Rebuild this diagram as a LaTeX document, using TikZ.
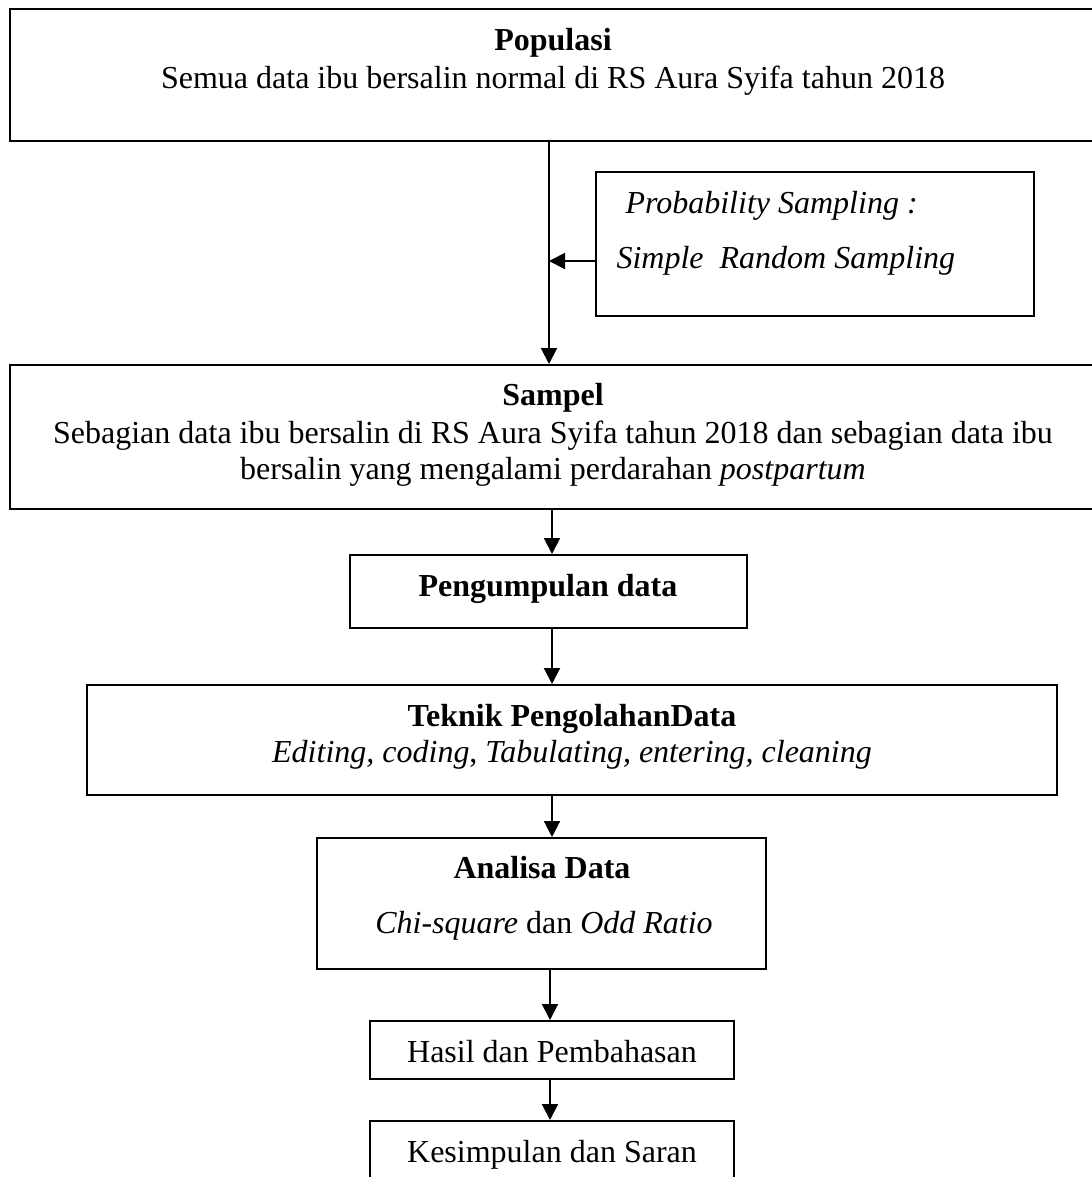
\documentclass[tikz,border=0pt]{standalone}
\usepackage{fontspec}
\setmainfont{Liberation Serif}
\usetikzlibrary{arrows.meta,fit}
\tikzset{
  box/.style={draw, line width=0.75pt, inner sep=0pt},
  heading/.style={font=\fontsize{12}{14}\selectfont\bfseries, anchor=base, inner sep=0pt},
  txt/.style={font=\fontsize{12}{14}\selectfont, anchor=base, inner sep=0pt},
  flow/.style={line width=0.75pt, -{Triangle[length=6pt,width=6pt]}}
}

\begin{document}
\begin{tikzpicture}[x=0.375pt, y=-0.375pt]

  \useasboundingbox (0,0) rectangle (1092,1177);

  % boxes
  \node[box, fit={(10,9) (1100,141)}] (populasi) {};
  \node[box, fit={(596,172) (1034,316)}] (sampling) {};
  \node[box, fit={(10,365) (1100,509)}] (sampel) {};
  \node[box, fit={(350,555) (747,628)}] (kumpul) {};
  \node[box, fit={(87,685) (1057,795)}] (olah) {};
  \node[box, fit={(317,838) (766,969)}] (analisa) {};
  \node[box, fit={(370,1021) (734,1079)}] (hasil) {};
  \node[box, fit={(370,1121) (734,1190)}] (simpulan) {};

  % texts
  \node[heading] (populasi-title) at (553,50) {Populasi};
  \node[txt] (populasi-text) at (553,88) {Semua data ibu bersalin normal di RS Aura Syifa tahun 2018};

  \node[txt, anchor=base west] (sampling-a) at (625,213) {\textit{Probability Sampling :}};
  \node[txt, anchor=base west] (sampling-b) at (616,268) {\textit{Simple\ \ Random Sampling}};

  \node[heading] (sampel-title) at (553,405) {Sampel};
  \node[txt] (sampel-a) at (553,443) {Sebagian data ibu bersalin di RS Aura Syifa tahun 2018 dan sebagian data ibu};
  \node[txt] (sampel-b) at (553,479) {bersalin yang mengalami perdarahan \textit{postpartum}};

  \node[heading] (kumpul-title) at (548,596) {Pengumpulan data};

  \node[heading] (olah-title) at (572,726) {Teknik PengolahanData};
  \node[txt] (olah-text) at (572,762) {\textit{Editing, coding}, \textit{Tabulating, entering, cleaning}};

  \node[heading] (analisa-title) at (542,878) {Analisa Data};
  \node[txt] (analisa-text) at (544,933) {\textit{Chi-square} dan \textit{Odd Ratio}};

  \node[txt] (hasil-text) at (552,1062) {Hasil dan Pembahasan};
  \node[txt] (simpulan-text) at (552,1162) {Kesimpulan dan Saran};

  % connectors
  \coordinate (join) at (549,261);
  \coordinate (mid) at (552,0);
  \coordinate (low) at (550,0);

  \draw[flow] (populasi.south -| join) -- (sampel.north -| join);
  \draw[flow] (sampling.west |- join) -- (join);
  \draw[flow] (sampel.south -| mid) -- (kumpul.north -| mid);
  \draw[flow] (kumpul.south -| mid) -- (olah.north -| mid);
  \draw[flow] (olah.south -| mid) -- (analisa.north -| mid);
  \draw[flow] (analisa.south -| low) -- (hasil.north -| low);
  \draw[flow] (hasil.south -| low) -- (simpulan.north -| low);

\end{tikzpicture}
\end{document}
